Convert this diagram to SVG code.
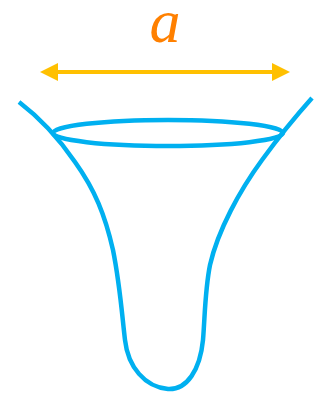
<svg xmlns="http://www.w3.org/2000/svg" width="329" height="393" viewBox="0 0 329 393">
<style>
.b{fill:none;stroke:#00B0F0;stroke-width:4.5;stroke-linecap:butt}
.ar{stroke:#FFC000;stroke-width:4}
</style>
<rect width="329" height="393" fill="#fff"/>
<g id="label"><text x="165" y="42" text-anchor="middle" font-family="Liberation Serif, serif" font-style="italic" font-size="62" fill="#FF8000">a</text></g>
<g id="connectors">
<line class="ar" x1="55" y1="72" x2="275" y2="72"/>
<polygon points="40,72 58,63 58,81" fill="#FFC000"/>
<polygon points="290,72 272,63 272,81" fill="#FFC000"/>
</g>
<g id="funnel">
<path class="b" d="M19,102 C40,118 60,140 75,162 C95,190 105,215 113,250 C120,285 122,315 125,340 C128,367 145,387 168,389 C187,390 200,370 203,340 C205,315 205,290 210,265 C218,230 240,190 262,160 C278,138 295,117 312,98"/>
<ellipse class="b" cx="168" cy="133" rx="115" ry="13"/>
</g>
</svg>
